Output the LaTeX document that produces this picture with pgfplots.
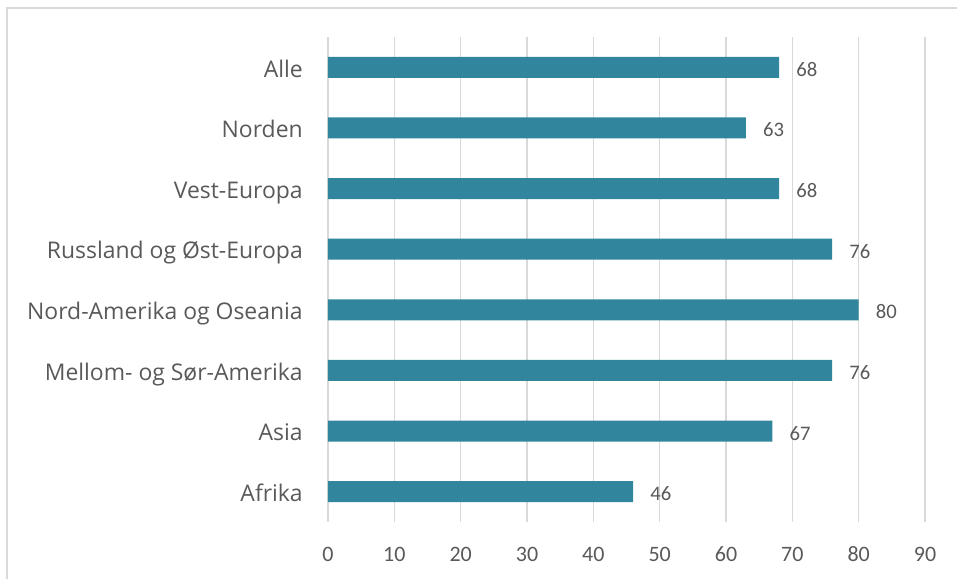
\documentclass[border=0pt]{standalone}
\usepackage{pgfplots}
\pgfplotsset{compat=1.18}
\usepackage{fontspec}
\setmainfont{Open Sans}
\newfontfamily\numfont{Carlito}
\definecolor{barc}{HTML}{31859C}
\definecolor{txt}{HTML}{595959}
\definecolor{grd}{HTML}{D9D9D9}
\begin{document}
\begin{tikzpicture}[x=1pt,y=1pt]
\useasboundingbox (0,0) rectangle (717.75,434.25);
\draw[grd, line width=1.5pt] (5.25,0) -- (5.25,428.25) -- (717.75,428.25);
\begin{axis}[at={(246pt,42.75pt)}, anchor=south west, scale only axis,
  width=447.75pt, height=363.75pt,
  /pgf/number format/assume math mode=true,
  xbar, bar width=15.75pt,
  xmin=0, xmax=90, ymin=-0.5, ymax=7.5, y dir=reverse,
  xtick={0,10,...,90}, ytick={0,...,7},
  yticklabels={Alle, Norden, Vest-Europa, Russland og Øst-Europa, Nord-Amerika og Oseania, Mellom- og Sør-Amerika, Asia, Afrika},
  axis line style={draw=none}, major tick length=0pt,
  xmajorgrids, grid style={grd, line width=1.2pt},
  xticklabel style={font=\numfont\fontsize{16.5}{18}\selectfont, text=txt, anchor=base, inner sep=0pt, yshift=-29.25pt},
  yticklabel style={font=\fontsize{17.2}{19}\selectfont, text=txt, anchor=base east, inner sep=0pt, xshift=-18.75pt, yshift=-7.3pt},
  nodes near coords,
  nodes near coords style={font=\numfont\fontsize{15.5}{17}\selectfont, text=txt, anchor=base west, inner sep=0pt, xshift=12.75pt, yshift=-6.75pt},
]
\addplot[fill=barc, draw=none] coordinates {(68,0) (63,1) (68,2) (76,3) (80,4) (76,5) (67,6) (46,7)};
\end{axis}
\end{tikzpicture}
\end{document}
